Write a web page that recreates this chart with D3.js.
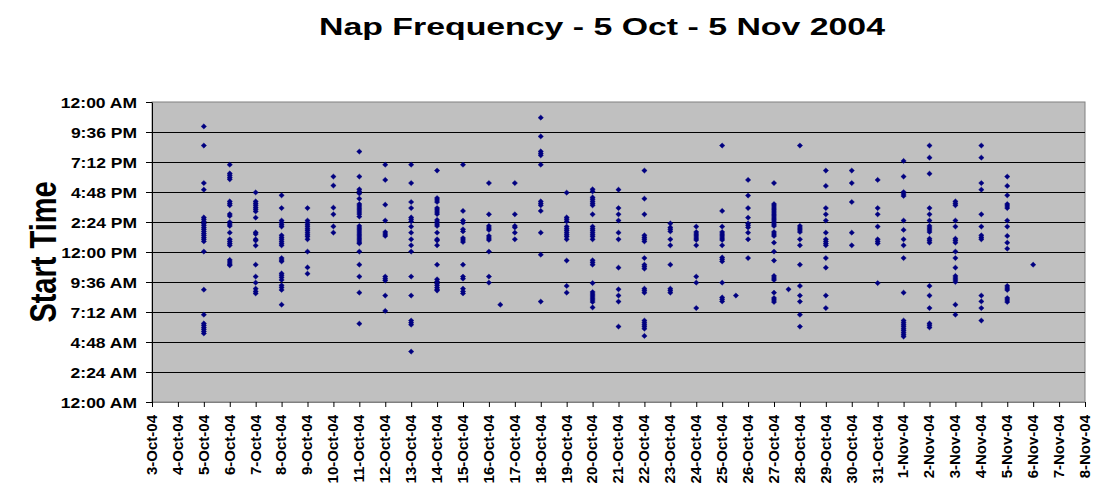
<!DOCTYPE html>
<html>
<head>
<meta charset="utf-8">
<script src="https://cdn.jsdelivr.net/npm/d3@7"></script>
<style>
  html, body { margin: 0; padding: 0; background: #ffffff; }
  svg { display: block; font-family: Arial, "Liberation Sans", sans-serif; }
</style>
</head>
<body>
<svg id="chart" width="1095" height="488"></svg>
<script>
// ---------------- DATA ----------------
const chartTitle = "Nap Frequency - 5 Oct - 5 Nov 2004";
const yAxisTitle = "Start Time";

const xTickLabels = ["3-Oct-04","4-Oct-04","5-Oct-04","6-Oct-04","7-Oct-04","8-Oct-04","9-Oct-04","10-Oct-04",
  "11-Oct-04","12-Oct-04","13-Oct-04","14-Oct-04","15-Oct-04","16-Oct-04","17-Oct-04","18-Oct-04","19-Oct-04",
  "20-Oct-04","21-Oct-04","22-Oct-04","23-Oct-04","24-Oct-04","25-Oct-04","26-Oct-04","27-Oct-04","28-Oct-04",
  "29-Oct-04","30-Oct-04","31-Oct-04","1-Nov-04","2-Nov-04","3-Nov-04","4-Nov-04","5-Nov-04","6-Nov-04",
  "7-Nov-04","8-Nov-04"];
const yTickLabels = ["12:00 AM","2:24 AM","4:48 AM","7:12 AM","9:36 AM","12:00 PM","2:24 PM","4:48 PM",
  "7:12 PM","9:36 PM","12:00 AM"];

const napDays = ["2004-10-05","2004-10-06","2004-10-07","2004-10-08","2004-10-09","2004-10-10","2004-10-11",
  "2004-10-12","2004-10-13","2004-10-14","2004-10-15","2004-10-16","2004-10-17","2004-10-18","2004-10-19",
  "2004-10-20","2004-10-21","2004-10-22","2004-10-23","2004-10-24","2004-10-25","2004-10-26","2004-10-27",
  "2004-10-28","2004-10-29","2004-10-30","2004-10-31","2004-11-01","2004-11-02","2004-11-03","2004-11-04",
  "2004-11-05","2004-11-06"];

const napStartTimes = [
  ["22:03","20:31","17:31","16:59","14:46","14:37","14:27","14:17","14:08","13:58","13:49","13:39","13:29","13:20","13:10","13:01","12:51","12:02","08:59","06:59","06:17","06:08","05:58","05:49","05:39","05:29"],
  ["18:59","18:17","18:08","17:58","17:49","16:03","15:53","15:44","15:02","14:53","14:24","14:14","14:05","13:33","13:01","12:51","12:41","12:32","11:22","11:12","11:02","10:56"],
  ["16:46","16:03","15:53","15:44","15:34","15:25","15:15","14:45","13:34","13:26","13:01","12:55","12:31","10:59","10:02","09:33","09:04","08:51","08:41"],
  ["16:32","15:31","14:31","14:21","14:11","14:02","13:20","13:10","13:01","12:51","12:41","12:32","11:31","11:22","11:15","10:17","10:08","09:58","09:46","09:20","09:10","08:58","07:47"],
  ["15:31","14:31","14:21","14:11","14:02","13:52","13:43","13:33","13:23","13:14","13:01","12:02","10:46","10:16"],
  ["18:02","17:19","15:33","15:01","14:03","13:33"],
  ["20:02","18:02","17:01","16:51","16:41","16:16","15:50","15:41","15:31","15:22","15:12","15:02","14:50","14:05","13:55","13:46","13:36","13:26","13:17","13:07","12:58","12:48","12:41","12:02","10:59","10:02","08:45","06:16"],
  ["18:59","17:46","15:47","14:31","13:36","13:26","13:17","10:02","09:52","09:43","08:31","07:17"],
  ["18:59","17:31","16:00","15:31","14:46","14:37","14:27","14:02","13:33","13:01","12:32","12:02","10:02","08:31","06:31","06:21","06:11","04:02"],
  ["18:31","16:19","16:10","16:00","15:31","15:22","15:12","15:02","14:34","14:24","14:14","14:05","13:33","13:01","12:55","12:32","10:59","09:49","09:39","09:29","09:20","09:10","09:01","08:55"],
  ["18:59","15:17","14:31","14:21","13:49","13:39","13:07","12:58","12:48","10:59","10:02","09:52","09:04","08:51","08:41"],
  ["17:31","15:01","14:05","13:55","13:46","13:17","13:07","12:58","12:02","10:02","09:33"],
  ["17:31","15:01","14:05","13:58","13:33","13:01"],
  ["22:45","21:15","20:03","19:53","19:44","18:59","16:03","15:53","15:44","15:17","13:33","11:47","08:02"],
  ["16:45","14:46","14:37","14:27","14:02","13:52","13:43","13:33","13:23","13:14","13:01","11:19","09:17","08:45"],
  ["17:01","16:51","16:22","16:13","16:03","15:53","15:44","15:01","14:02","13:52","13:43","13:33","13:23","13:14","13:01","11:20","11:10","10:59","09:31","08:48","08:38","08:29","08:19","08:10","08:00","07:34"],
  ["16:59","15:31","15:01","14:31","13:33","13:01","10:45","09:01","08:31","08:02","06:02"],
  ["18:31","16:16","15:01","13:20","13:10","13:01","12:51","11:31","10:59","10:50","10:40","09:04","08:55","08:45","06:31","06:21","06:11","06:02","05:52","05:17"],
  ["14:17","13:58","13:49","13:39","13:01","12:32","10:59","09:04","08:55","08:45"],
  ["14:02","13:36","13:26","13:17","13:07","12:58","12:32","10:02","09:33","07:31"],
  ["20:31","15:17","14:02","13:36","13:26","13:17","13:07","12:58","12:32","11:34","11:25","11:15","09:33","08:22","08:13","08:03"],
  ["17:46","16:31","15:31","14:45","14:17","14:08","13:58","13:33","13:01","11:31"],
  ["17:31","15:50","15:41","15:31","15:22","15:12","15:02","14:53","14:43","14:34","14:24","14:14","14:05","13:36","13:26","13:17","12:45","12:02","11:19","10:05","09:55","09:46","08:45","08:19","08:10","08:00"],
  ["20:31","14:05","13:55","13:46","13:36","13:01","12:32","10:59","09:17","08:31","08:02","06:59","06:02"],
  ["18:31","17:17","15:31","15:01","14:31","13:33","13:01","12:51","12:41","12:32","11:31","10:45","08:31","07:31"],
  ["18:31","17:31","16:00","13:33","12:32"],
  ["17:46","15:31","15:01","14:02","13:01","12:51","12:41","09:31"],
  ["19:17","18:02","16:48","16:38","16:29","14:31","13:46","13:01","12:32","11:31","08:45","06:31","06:21","06:11","06:02","05:52","05:43","05:33","05:23","05:14"],
  ["20:31","19:33","18:16","15:31","15:01","14:31","14:05","13:55","13:46","13:36","13:04","12:55","12:45","09:17","08:31","07:31","06:17","06:08","05:58"],
  ["16:03","15:53","15:44","14:31","14:02","13:04","12:55","12:45","12:02","11:31","10:45","10:05","09:55","09:46","09:36","07:47","06:59"],
  ["20:31","19:33","17:31","16:59","15:01","14:02","13:20","13:10","13:01","08:31","08:03","07:31","06:31"],
  ["18:02","17:17","16:32","15:50","15:41","15:31","14:31","14:02","13:17","12:45","12:16","09:17","09:07","08:58","08:19","08:10","08:00"],
  ["10:59"]
];

// a few points recorded at a date-time rather than a whole day
const extraDateTimes = ["2004-10-16 10:34","2004-10-25 12:43","2004-10-27 13:26"];
const extraStartTimes = ["07:47","08:31","09:01"];

// ---------------- CHART ----------------
const svg = d3.select("#chart");
const plot = { left: 152, right: 1085, top: 102, bottom: 402 };
const TEXT_SX = 1.3;

const parseDay = d3.timeParse("%Y-%m-%d");
const parseDT = d3.timeParse("%Y-%m-%d %H:%M");
const toHours = s => { const [h, m] = s.split(":").map(Number); return h + m / 60; };

const x = d3.scaleTime()
  .domain([parseDay("2004-10-03"), parseDay("2004-11-08")])
  .range([plot.left, plot.right]);
const y = d3.scaleLinear().domain([0, 24]).range([plot.bottom, plot.top]);

const points = [];
napDays.forEach((d, i) => napStartTimes[i].forEach(t => points.push({ x: parseDay(d), h: toHours(t) })));
extraDateTimes.forEach((d, i) => points.push({ x: parseDT(d), h: toHours(extraStartTimes[i]) }));

// plot background
svg.append("rect")
  .attr("x", plot.left).attr("y", plot.top)
  .attr("width", plot.right - plot.left).attr("height", plot.bottom - plot.top)
  .attr("fill", "#C0C0C0").attr("stroke", "#808080").attr("stroke-width", 1);

const yTickVals = d3.range(11).map(i => i * 2.4);
const xTickVals = d3.timeDay.range(parseDay("2004-10-03"), d3.timeDay.offset(parseDay("2004-11-08"), 1));

// gridlines
svg.append("g").selectAll("line")
  .data(yTickVals.filter((v, i) => i > 0 && i < 10))
  .join("line")
  .attr("x1", plot.left).attr("x2", plot.right)
  .attr("y1", d => Math.round(y(d)) + 0.5).attr("y2", d => Math.round(y(d)) + 0.5)
  .attr("stroke", "#000").attr("stroke-width", 1);

// y axis
const yAxis = svg.append("g")
  .attr("transform", `translate(${plot.left},0)`)
  .call(d3.axisLeft(y).tickValues(yTickVals).tickSize(6).tickSizeOuter(0)
    .tickFormat((d, i) => yTickLabels[i]));
yAxis.select(".domain").attr("stroke", "#000");
yAxis.selectAll(".tick line").attr("stroke", "#000");
yAxis.selectAll(".tick text")
  .attr("x", 0).attr("dy", "0.36em")
  .attr("text-anchor", "end")
  .attr("transform", `translate(-15,0) scale(1.13,1)`)
  .style("font-size", "15.5px").style("font-weight", "bold")
  .style("font-family", "Arial, 'Liberation Sans', sans-serif").attr("fill", "#000");

// x axis
const xAxis = svg.append("g")
  .attr("transform", `translate(0,${plot.bottom})`)
  .call(d3.axisBottom(x).tickValues(xTickVals).tickSize(5).tickSizeOuter(0)
    .tickFormat((d, i) => xTickLabels[i]));
xAxis.select(".domain").attr("stroke", "#808080");
xAxis.selectAll(".tick line").attr("stroke", "#000");
xAxis.selectAll(".tick text")
  .attr("x", 0).attr("y", 0).attr("dy", "0.36em")
  .attr("text-anchor", "end")
  .attr("transform", "translate(-1,13) rotate(-90)")
  .style("font-size", "15px").style("font-weight", "bold")
  .style("font-family", "Arial, 'Liberation Sans', sans-serif").attr("fill", "#000");

// points (diamonds)
const diamond = "M0,-2.6L2.7,0L0,2.6L-2.7,0Z";
svg.append("g").selectAll("path")
  .data(points)
  .join("path")
  .attr("d", diamond)
  .attr("transform", d => `translate(${x(d.x)},${y(d.h)})`)
  .attr("fill", "#000080").attr("stroke", "#000080").attr("stroke-width", 0.4);

// title
svg.append("text")
  .attr("x", 602).attr("y", 35)
  .attr("text-anchor", "middle")
  .attr("textLength", 566).attr("lengthAdjust", "spacingAndGlyphs")
  .style("font-size", "24px").style("font-weight", "bold").attr("fill", "#000")
  .text(chartTitle);

// y axis title
svg.append("text")
  .attr("text-anchor", "middle")
  .attr("transform", `translate(56,252) scale(${TEXT_SX},1) rotate(-90)`)
  .style("font-size", "29px").style("font-weight", "bold").attr("fill", "#000")
  .text(yAxisTitle);
</script>
</body>
</html>
